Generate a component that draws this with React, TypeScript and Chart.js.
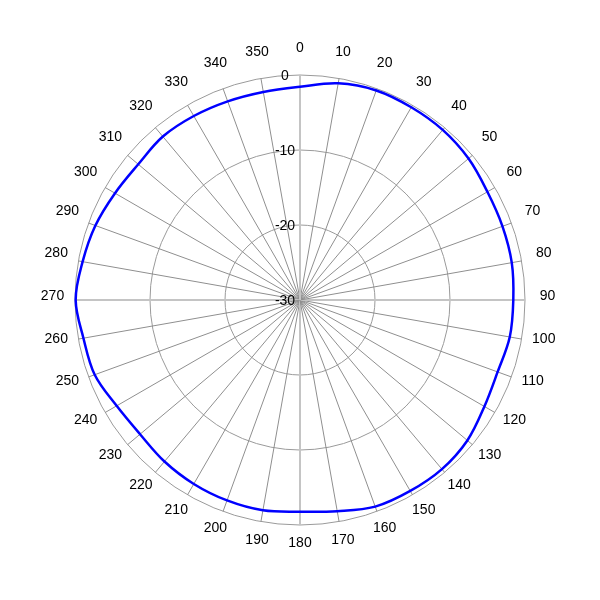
import React, { useEffect, useRef } from 'react';
import { Chart, registerables } from 'chart.js';

Chart.register(...registerables);

// Angles in degrees (clockwise from top)
const angles: number[] = [0, 10, 20, 30, 40, 50, 60, 70, 80, 90, 100, 110, 120, 130, 140, 150, 160, 170,
  180, 190, 200, 210, 220, 230, 240, 250, 260, 270, 280, 290, 300, 310, 320, 330, 340, 350];

// Radiation pattern gain in dB at each angle
const gainDb: number[] = [-1.56, -0.67, -0.27, -0.33, -0.4, -0.67, -1.15, -1.27, -1.33, -1.56,
  -1.6, -1.96, -1.61, -0.87, -0.56, -0.6, -0.68, -1.41, -1.77, -1.53, -1.56, -1.68, -1.89, -2.16,
  -1.77, -0.87, -0.68, -0.09, -0.57, -0.97, -1.52, -1.85, -1.55, -1.67, -1.81, -1.83];

const radialTicks: number[] = [-30, -20, -10, 0];
const angleLabels: string[] = angles.map((a) => String(a));

export default function App() {
  const ref = useRef<HTMLCanvasElement>(null);

  useEffect(() => {
    document.body.style.margin = '0';
    const canvas = ref.current;
    if (!canvas) return;

    const labelPlugin = {
      id: 'polarLabels',
      afterDraw(chart: any) {
        const scale = chart.scales.r;
        const ctx = chart.ctx;
        ctx.save();
        ctx.font = '14px "Liberation Sans", Arial, sans-serif';
        ctx.fillStyle = '#000';
        ctx.textAlign = 'center';
        ctx.textBaseline = 'middle';
        const outer = scale.getDistanceFromCenterForValue(scale.max);
        angleLabels.forEach((lab, i) => {
          const p = scale.getPointPosition(i, outer + 22.5);
          ctx.fillText(lab, p.x, p.y - 4);
        });
        radialTicks.forEach((v) => {
          const d = scale.getDistanceFromCenterForValue(v);
          ctx.fillText(String(v), scale.xCenter - 15, scale.yCenter - d + 1);
        });
        ctx.restore();
      },
    };

    const chart = new Chart(canvas, {
      type: 'radar',
      data: {
        labels: angleLabels,
        datasets: [
          {
            data: gainDb,
            borderColor: '#0000ff',
            borderWidth: 2.5,
            pointRadius: 0,
            fill: false,
            tension: 0.35,
          },
        ],
      },
      options: {
        animation: false,
        responsive: false,
        devicePixelRatio: 1,
        layout: { padding: 75 },
        plugins: {
          legend: { display: false },
          tooltip: { enabled: false },
        },
        scales: {
          r: {
            min: -30,
            max: 0,
            startAngle: 0,
            ticks: { display: false, stepSize: 10 },
            pointLabels: { display: false },
            grid: { circular: true, color: '#9a9a9a', lineWidth: 1 },
            angleLines: {
              color: (ctx: any) => (ctx.index % 9 === 0 ? '#c4c4c4' : '#8f8f8f'),
              lineWidth: (ctx: any) => (ctx.index % 9 === 0 ? 2 : 1),
            },
          },
        },
      },
      plugins: [labelPlugin],
    } as any);

    return () => chart.destroy();
  }, []);

  return (
    <div style={{ width: 600, height: 600, background: '#fff' }}>
      <canvas ref={ref} width={600} height={600} style={{ display: 'block' }} />
    </div>
  );
}
